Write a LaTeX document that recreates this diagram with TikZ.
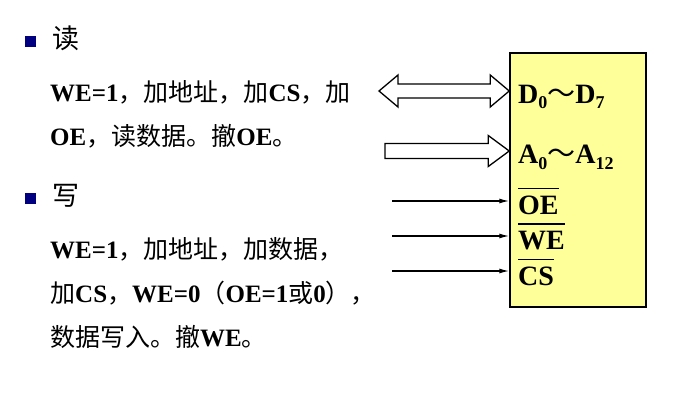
\documentclass[tikz,border=0pt]{standalone}
\usepackage{fontspec}
\setmainfont{Liberation Serif}
\newfontfamily\cjk{Noto Sans CJK SC}
\usetikzlibrary{positioning,calc,arrows.meta}
\definecolor{chipyellow}{HTML}{FFFF99}
\definecolor{bulletblue}{HTML}{000080}
\newcommand\zh[1]{{\cjk\mdseries #1}}
\newcommand\idx[1]{\raisebox{-5.5pt}{\fontsize{18}{18}\selectfont #1}}
\newcommand\nbar[1]{\leavevmode\vbox{\hrule height 1.8pt \kern 6pt \hbox{#1}}}

\begin{document}
\begin{tikzpicture}
    [
    x=1pt, y=-1pt,
    node distance=44pt,
    on grid,
    every node/.style={inner sep=0pt},
    bullet/.style={fill=bulletblue, minimum size=11pt},
    head/.style={anchor=base west, font=\fontsize{27}{32}\selectfont},
    txt/.style={anchor=base west, font=\fontsize{25}{30}\selectfont\bfseries},
    chip/.style={draw, line width=1.5pt, fill=chipyellow, minimum width=136pt, minimum height=254pt},
    pinlbl/.style={anchor=base west, font=\fontsize{28}{32}\selectfont\bfseries},
    bus/.style={draw, line width=1.3pt, fill=white},
    sig/.style={draw, line width=1.3pt, -{Latex[length=10pt,width=5pt]}},
    ]
    \useasboundingbox (0,0) rectangle (678,412);

    % read cycle
    \node[bullet] (b1) at (30,42) {};
    \node[head] (read) at (52,49) {\zh{读}};
    \node[txt] (r1) at (50,102) {WE=1\zh{，加地址，加}CS\zh{，加}};
    \node[txt, below=of r1.base west, anchor=base west] (r2) {OE\zh{，读数据。撤}OE\zh{。}};

    % write cycle
    \node[bullet] (b2) at (30,198) {};
    \node[head] (write) at (52,205) {\zh{写}};
    \node[txt] (w1) at (50,258) {WE=1\zh{，加地址，加数据，}};
    \node[txt, below=of w1.base west, anchor=base west] (w2) {\zh{加}CS\zh{，}WE=0\zh{（}OE=1\zh{或}0\zh{），}};
    \node[txt, below=of w2.base west, anchor=base west] (w3) {\zh{数据写入。撤}WE\zh{。}};

    % the chip and its pins
    \node[chip] (ram) at (578,180) {};
    \node[pinlbl] (dlbl) at (518,103) {D\idx{0}\zh{～}D\idx{7}};
    \node[pinlbl] (albl) at (518,164) {A\idx{0}\zh{～}A\idx{12}};
    \node[pinlbl] (oelbl) at (518,214) {\nbar{OE}};
    \node[pinlbl] (welbl) at (518,249) {\nbar{WE}};
    \node[pinlbl] (cslbl) at (518,285) {\nbar{CS}};

    % data bus
    \coordinate (dtip) at (ram.west |- 0,91);
    \coordinate (dend) at (379,91);
    \draw[bus] (dend) -- ++(19,-16) -- ++(0,9) -- ($(dtip)+(-19,-7)$) -- ++(0,-9) -- (dtip)
        -- ++(-19,16) -- ++(0,-9) -- ($(dend)+(19,7)$) -- ++(0,9) -- cycle;

    % address bus
    \coordinate (atip) at (ram.west |- 0,151);
    \coordinate (aend) at (385,151);
    \draw[bus] ($(aend)+(0,-7.5)$) -- ($(atip)+(-21,-7.5)$) -- ++(0,-8) -- (atip)
        -- ++(-21,15.5) -- ++(0,-8) -- ($(aend)+(0,7.5)$) -- cycle;

    % control lines
    \coordinate (oein) at (392,201);
    \coordinate (wein) at (392,236);
    \coordinate (csin) at (392,271);
    \draw[sig] (oein) -- (oein -| ram.west);
    \draw[sig] (wein) -- (wein -| ram.west);
    \draw[sig] (csin) -- (csin -| ram.west);
\end{tikzpicture}
\end{document}
